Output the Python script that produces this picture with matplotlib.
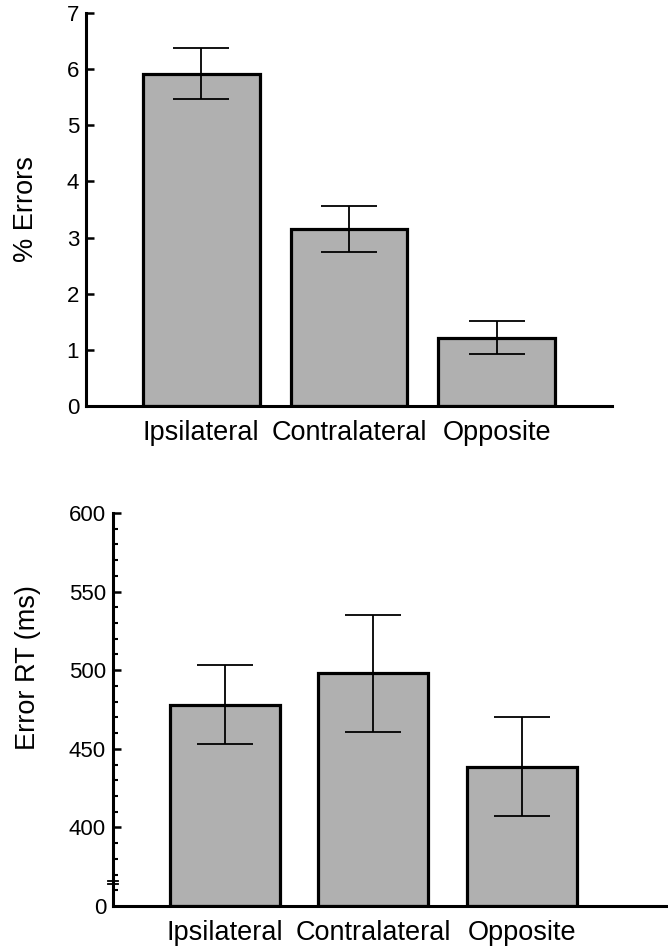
import matplotlib
matplotlib.use("Agg")
import matplotlib.pyplot as plt
import matplotlib.transforms as mtransforms
import numpy as np

categories = ["Ipsilateral", "Contralateral", "Opposite"]
error_pct = [5.92, 3.15, 1.22]
error_pct_se = [0.46, 0.41, 0.30]
error_rt = [478, 498, 438.5]
error_rt_se = [25, 37, 31.5]

rt_base = 350  # bottom of broken axis, labelled "0"
rt_ticks = [350, 400, 450, 500, 550, 600]
rt_ticklabels = ["0", "400", "450", "500", "550", "600"]

plt.rcParams['font.family'] = ['Liberation Sans', 'DejaVu Sans']

fig = plt.figure(figsize=(6.68, 9.47), dpi=100)
W, H = 668, 947

def axes_px(l, r, t, b):
    return fig.add_axes([l / W, 1 - b / H, (r - l) / W, (b - t) / H])

bar_color = '#b0b0b0'
x = np.arange(len(categories))

# ---------- Top panel ----------
ax1 = axes_px(86, 612, 13, 406)
ax1.bar(x, error_pct, width=0.79, color=bar_color, edgecolor='black', linewidth=2.3, zorder=2)
ax1.errorbar(x, error_pct, yerr=error_pct_se, fmt='none', ecolor='black', elinewidth=1.3,
             capsize=20, capthick=1.3, zorder=3)
ax1.set_xlim(-0.78, 2.78)
ax1.set_ylim(0, 7)
ax1.set_yticks(range(0, 8))
ax1.set_ylabel("% Errors", fontsize=19.5)
ax1.yaxis.set_label_coords(-0.09, 0.5)

# ---------- Bottom panel ----------
ax2 = axes_px(113, 668, 513, 906)
rt_arr = np.array(error_rt)
ax2.bar(x, rt_arr - rt_base, bottom=rt_base, width=0.74, color=bar_color, edgecolor='black',
        linewidth=2.3, zorder=2)
ax2.errorbar(x, rt_arr, yerr=error_rt_se, fmt='none', ecolor='black', elinewidth=1.3,
             capsize=20, capthick=1.3, zorder=3)
ax2.set_xlim(-0.75, 2.98)
ax2.set_ylim(rt_base, 600)
ax2.set_yticks(rt_ticks)
ax2.set_yticklabels(rt_ticklabels)
ax2.set_yticks([v for v in range(360, 600, 10) if v % 50 != 0], minor=True)
ax2.set_ylabel("Error RT (ms)", fontsize=19.5)
ax2.yaxis.set_label_coords(-0.13, 0.606)

# axis break marks
trans = mtransforms.blended_transform_factory(ax2.transAxes, ax2.transData)
for yb in (365.8, 363.9):
    ax2.plot([-0.009, 0.009], [yb, yb], color='black', lw=1.3, transform=trans, clip_on=False, zorder=5)

for ax in (ax1, ax2):
    ax.set_xticks(x)
    ax.set_xticklabels(categories, fontsize=19.5)
    ax.tick_params(axis='x', length=0, pad=10)
    ax.tick_params(axis='y', which='major', direction='in', length=6, width=1.8, labelsize=16, pad=5)
    ax.tick_params(axis='y', which='minor', direction='in', length=3.5, width=1.5)
    for s in ('top', 'right'):
        ax.spines[s].set_visible(False)
    for s in ('left', 'bottom'):
        ax.spines[s].set_linewidth(2.2)

fig.savefig("out.png", dpi=100)
